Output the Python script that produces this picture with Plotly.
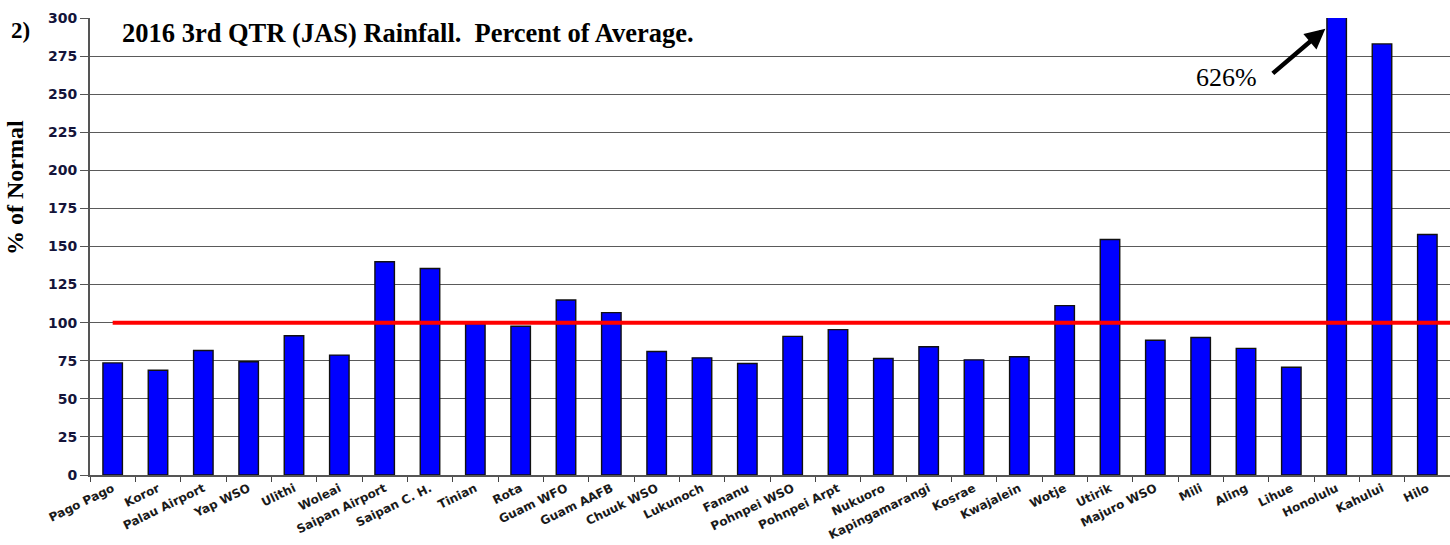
import plotly.graph_objects as go

stations = ["Pago Pago", "Koror", "Palau Airport", "Yap WSO", "Ulithi", "Woleai",
            "Saipan Airport", "Saipan C. H.", "Tinian", "Rota", "Guam WFO", "Guam AAFB",
            "Chuuk WSO", "Lukunoch", "Fananu", "Pohnpei WSO", "Pohnpei Arpt", "Nukuoro",
            "Kapingamarangi", "Kosrae", "Kwajalein", "Wotje", "Utirik", "Majuro WSO",
            "Mili", "Aling", "Lihue", "Honolulu", "Kahului", "Hilo"]
pct_normal = [73.6, 68.8, 81.7, 74.3, 91.4, 78.7,
              140.0, 135.6, 99.5, 97.6, 114.9, 106.6,
              81.1, 76.9, 73.2, 91.0, 95.4, 76.5,
              84.2, 75.6, 77.6, 111.2, 154.6, 88.5,
              90.3, 83.1, 70.7, 626.0, 283.0, 157.9]
y_ticks = list(range(0, 301, 25))
normal_level = 100
title_text = "2016 3rd QTR (JAS) Rainfall.  Percent of Average."
honolulu_label = "626%"

fig = go.Figure()
fig.add_trace(go.Bar(
    x=stations, y=pct_normal,
    marker=dict(color="#0000FF", line=dict(color="#111111", width=1.4)),
    width=0.43,
))

fig.add_shape(type="line", xref="x", yref="y", x0=0, x1=29.5,
              y0=normal_level, y1=normal_level,
              line=dict(color="#FF0000", width=4), layer="above")

fig.update_layout(
    width=1450, height=545,
    margin=dict(l=90, r=0, t=18, b=70),
    plot_bgcolor="white", paper_bgcolor="white",
    showlegend=False,
    xaxis=dict(
        type="category", range=[-0.5, 29.5], automargin=False,
        tickangle=-26,
        tickfont=dict(family="DejaVu Sans", size=12, color="#1a1a1a", weight="bold"),
        ticks="outside", tickson="boundaries", ticklen=5, tickcolor="#444444",
        showline=True, linecolor="#555555", linewidth=2,
        showgrid=False,
    ),
    yaxis=dict(
        range=[0, 300], tickvals=y_ticks, automargin=False,
        ticktext=[str(v) for v in y_ticks],
        tickfont=dict(family="DejaVu Sans", size=14, color="#14143a", weight="bold"),
        ticks="outside", ticklen=8, tickcolor="#555555",
        showgrid=True, gridcolor="#5a5a5a", gridwidth=1.2,
        showline=True, linecolor="#555555", linewidth=2,
        zeroline=False,
    ),
    font=dict(family="Liberation Serif, Times New Roman, serif"),
)

fig.add_annotation(text=f"<b>{title_text}</b>", xref="paper", yref="paper",
                   x=(120 - 90) / 1360, y=1 - (33 - 18) / 457,
                   xanchor="left", yanchor="middle", showarrow=False,
                   font=dict(family="Liberation Serif", size=26.5, color="black"))
fig.add_annotation(text="<b>2)</b>", xref="paper", yref="paper",
                   x=(9 - 90) / 1360, y=1 - (30 - 18) / 457,
                   xanchor="left", yanchor="middle", showarrow=False,
                   font=dict(family="Liberation Serif", size=23, color="black"))
fig.add_annotation(text="<b>% of Normal</b>", xref="paper", yref="paper",
                   x=(15 - 90) / 1360, y=1 - (188 - 18) / 457,
                   xanchor="center", yanchor="middle", showarrow=False, textangle=-90,
                   font=dict(family="Liberation Serif", size=24, color="black"))
fig.add_annotation(text=honolulu_label, xref="x", yref="y",
                   x=24.58, y=261, xanchor="center", yanchor="middle", showarrow=False,
                   font=dict(family="Liberation Serif", size=26, color="black"))
fig.add_annotation(text="", xref="x", yref="y", x=26.75, y=293,
                   ax=-54, ay=46, showarrow=True, arrowhead=2, arrowsize=0.9,
                   arrowwidth=4.5, arrowcolor="black")

fig.write_html("out.html")
